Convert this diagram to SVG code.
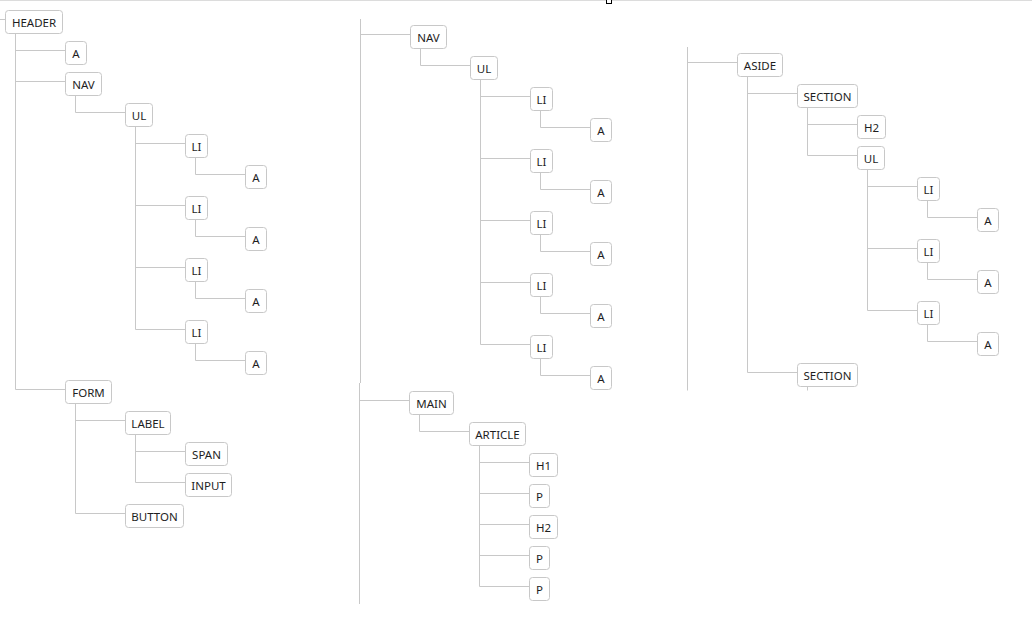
<svg xmlns="http://www.w3.org/2000/svg" width="1032" height="623" viewBox="0 0 1032 623">
<style>
.n rect{fill:#fff;stroke:#c8c8c8;stroke-width:1}
.n text{font-family:"Noto Sans","Open Sans",sans-serif;font-size:11.5px;fill:#1e1e1e;text-anchor:middle}
#connectors path{fill:none;stroke:#c8c8c8;stroke-width:1}
</style>
<rect x="0" y="0" width="1032" height="623" fill="#fff"/>
<line x1="0" y1="0.5" x2="1032" y2="0.5" stroke="#dcdcdc" stroke-width="1"/>
<rect x="606.5" y="-1" width="5" height="4.5" fill="#fff" stroke="#000" stroke-width="1"/>
<g id="connectors">
<path d="M0 19.5H5.5M15.5 33.5V389.5M15.5 50.5H65.5M15.5 81.5H65.5M15.5 389.5H65.5M75.5 95.5V112.5H125.5M135.5 126.5V329.5M135.5 143.5H185.5M135.5 205.5H185.5M135.5 267.5H185.5M135.5 329.5H185.5M195.5 157.5V174.5H245.5M195.5 219.5V236.5H245.5M195.5 281.5V298.5H245.5M195.5 343.5V360.5H245.5M75.5 403.5V513.5M75.5 420.5H125.5M75.5 513.5H125.5M135.5 434.5V482.5M135.5 451.5H185.5M135.5 482.5H185.5"/>
<path d="M360.5 19V383M360.5 34.5H410.5M420.5 48.5V65.5H470.5M480.5 79.5V344.5M480.5 96.5H530.5M480.5 158.5H530.5M480.5 220.5H530.5M480.5 282.5H530.5M480.5 344.5H530.5M540.5 110.5V127.5H590.5M540.5 172.5V189.5H590.5M540.5 234.5V251.5H590.5M540.5 296.5V313.5H590.5M540.5 358.5V375.5H590.5"/>
<path d="M359.5 383V604M359.5 400.5H409.5M419.5 414.5V431.5H469.5M479.5 445.5V586.5M479.5 462.5H529.5M479.5 493.5H529.5M479.5 524.5H529.5M479.5 555.5H529.5M479.5 586.5H529.5"/>
<path d="M687.5 47V390.5M687.5 62.5H737.5M747.5 76.5V372.5M747.5 93.5H797.5M747.5 372.5H797.5M807.5 107.5V155.5M807.5 124.5H857.5M807.5 155.5H857.5M867.5 169.5V310.5M867.5 186.5H917.5M867.5 248.5H917.5M867.5 310.5H917.5M927.5 200.5V217.5H977.5M927.5 262.5V279.5H977.5M927.5 324.5V341.5H977.5M807.5 386.5V390.5"/>
</g>
<g id="l-header" class="n"><rect x="5.5" y="10.5" width="57" height="23" rx="3"/><text x="34" y="27">HEADER</text></g>
<g id="l-a1" class="n"><rect x="65.5" y="41.5" width="21" height="23" rx="3"/><text x="76" y="58">A</text></g>
<g id="l-nav" class="n"><rect x="65.5" y="72.5" width="36" height="23" rx="3"/><text x="83.5" y="89">NAV</text></g>
<g id="l-ul" class="n"><rect x="125.5" y="103.5" width="27" height="23" rx="3"/><text x="139" y="120">UL</text></g>
<g id="l-li1" class="n"><rect x="185.5" y="134.5" width="22" height="23" rx="3"/><text x="196.5" y="151">LI</text></g>
<g id="l-a2" class="n"><rect x="245.5" y="165.5" width="21" height="23" rx="3"/><text x="256" y="182">A</text></g>
<g id="l-li2" class="n"><rect x="185.5" y="196.5" width="22" height="23" rx="3"/><text x="196.5" y="213">LI</text></g>
<g id="l-a3" class="n"><rect x="245.5" y="227.5" width="21" height="23" rx="3"/><text x="256" y="244">A</text></g>
<g id="l-li3" class="n"><rect x="185.5" y="258.5" width="22" height="23" rx="3"/><text x="196.5" y="275">LI</text></g>
<g id="l-a4" class="n"><rect x="245.5" y="289.5" width="21" height="23" rx="3"/><text x="256" y="306">A</text></g>
<g id="l-li4" class="n"><rect x="185.5" y="320.5" width="22" height="23" rx="3"/><text x="196.5" y="337">LI</text></g>
<g id="l-a5" class="n"><rect x="245.5" y="351.5" width="21" height="23" rx="3"/><text x="256" y="368">A</text></g>
<g id="l-form" class="n"><rect x="65.5" y="380.5" width="46" height="23" rx="3"/><text x="88.5" y="397">FORM</text></g>
<g id="l-label" class="n"><rect x="125.5" y="411.5" width="45" height="23" rx="3"/><text x="148" y="428">LABEL</text></g>
<g id="l-span" class="n"><rect x="185.5" y="442.5" width="42" height="23" rx="3"/><text x="206.5" y="459">SPAN</text></g>
<g id="l-input" class="n"><rect x="185.5" y="473.5" width="46" height="23" rx="3"/><text x="208.5" y="490">INPUT</text></g>
<g id="l-button" class="n"><rect x="125.5" y="504.5" width="58" height="23" rx="3"/><text x="154.5" y="521">BUTTON</text></g>
<g id="m-nav" class="n"><rect x="410.5" y="25.5" width="36" height="23" rx="3"/><text x="428.5" y="42">NAV</text></g>
<g id="m-ul" class="n"><rect x="470.5" y="56.5" width="27" height="23" rx="3"/><text x="484" y="73">UL</text></g>
<g id="m-li1" class="n"><rect x="530.5" y="87.5" width="22" height="23" rx="3"/><text x="541.5" y="104">LI</text></g>
<g id="m-a1" class="n"><rect x="590.5" y="118.5" width="21" height="23" rx="3"/><text x="601" y="135">A</text></g>
<g id="m-li2" class="n"><rect x="530.5" y="149.5" width="22" height="23" rx="3"/><text x="541.5" y="166">LI</text></g>
<g id="m-a2" class="n"><rect x="590.5" y="180.5" width="21" height="23" rx="3"/><text x="601" y="197">A</text></g>
<g id="m-li3" class="n"><rect x="530.5" y="211.5" width="22" height="23" rx="3"/><text x="541.5" y="228">LI</text></g>
<g id="m-a3" class="n"><rect x="590.5" y="242.5" width="21" height="23" rx="3"/><text x="601" y="259">A</text></g>
<g id="m-li4" class="n"><rect x="530.5" y="273.5" width="22" height="23" rx="3"/><text x="541.5" y="290">LI</text></g>
<g id="m-a4" class="n"><rect x="590.5" y="304.5" width="21" height="23" rx="3"/><text x="601" y="321">A</text></g>
<g id="m-li5" class="n"><rect x="530.5" y="335.5" width="22" height="23" rx="3"/><text x="541.5" y="352">LI</text></g>
<g id="m-a5" class="n"><rect x="590.5" y="366.5" width="21" height="23" rx="3"/><text x="601" y="383">A</text></g>
<g id="m-main" class="n"><rect x="409.5" y="391.5" width="44" height="23" rx="3"/><text x="431.5" y="408">MAIN</text></g>
<g id="m-article" class="n"><rect x="469.5" y="422.5" width="56" height="23" rx="3"/><text x="497.5" y="439">ARTICLE</text></g>
<g id="m-h1" class="n"><rect x="529.5" y="453.5" width="28" height="23" rx="3"/><text x="543.5" y="470">H1</text></g>
<g id="m-p1" class="n"><rect x="529.5" y="484.5" width="20" height="23" rx="3"/><text x="539.5" y="501">P</text></g>
<g id="m-h2" class="n"><rect x="529.5" y="515.5" width="28" height="23" rx="3"/><text x="543.5" y="532">H2</text></g>
<g id="m-p2" class="n"><rect x="529.5" y="546.5" width="20" height="23" rx="3"/><text x="539.5" y="563">P</text></g>
<g id="m-p3" class="n"><rect x="529.5" y="577.5" width="20" height="23" rx="3"/><text x="539.5" y="594">P</text></g>
<g id="r-aside" class="n"><rect x="737.5" y="53.5" width="45" height="23" rx="3"/><text x="760" y="70">ASIDE</text></g>
<g id="r-section1" class="n"><rect x="797.5" y="84.5" width="60" height="23" rx="3"/><text x="827.5" y="101">SECTION</text></g>
<g id="r-h2" class="n"><rect x="857.5" y="115.5" width="28" height="23" rx="3"/><text x="871.5" y="132">H2</text></g>
<g id="r-ul" class="n"><rect x="857.5" y="146.5" width="27" height="23" rx="3"/><text x="871" y="163">UL</text></g>
<g id="r-li1" class="n"><rect x="917.5" y="177.5" width="22" height="23" rx="3"/><text x="928.5" y="194">LI</text></g>
<g id="r-a1" class="n"><rect x="977.5" y="208.5" width="21" height="23" rx="3"/><text x="988" y="225">A</text></g>
<g id="r-li2" class="n"><rect x="917.5" y="239.5" width="22" height="23" rx="3"/><text x="928.5" y="256">LI</text></g>
<g id="r-a2" class="n"><rect x="977.5" y="270.5" width="21" height="23" rx="3"/><text x="988" y="287">A</text></g>
<g id="r-li3" class="n"><rect x="917.5" y="301.5" width="22" height="23" rx="3"/><text x="928.5" y="318">LI</text></g>
<g id="r-a3" class="n"><rect x="977.5" y="332.5" width="21" height="23" rx="3"/><text x="988" y="349">A</text></g>
<g id="r-section2" class="n"><rect x="797.5" y="363.5" width="60" height="23" rx="3"/><text x="827.5" y="380">SECTION</text></g>
</svg>
